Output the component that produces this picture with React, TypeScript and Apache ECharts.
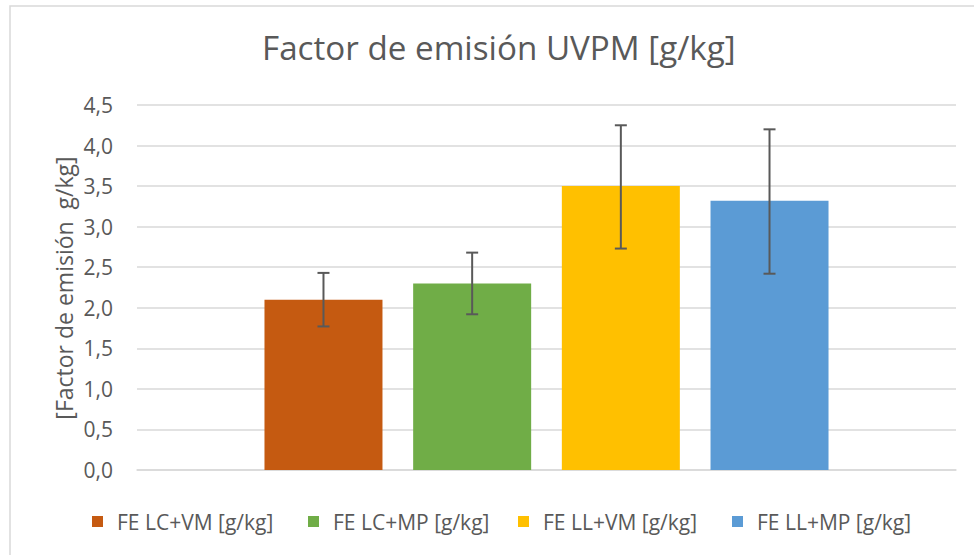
import React, { useEffect, useRef } from "react";
import * as echarts from "echarts";

const seriesNames = ["FE LC+VM [g/kg]", "FE LC+MP [g/kg]", "FE LL+VM [g/kg]", "FE LL+MP [g/kg]"];
const barValues = [2.1, 2.3, 3.5, 3.32];
const errLow = [1.77, 1.92, 2.73, 2.42];
const errHigh = [2.43, 2.68, 4.25, 4.2];
const colors = ["#C55A11", "#70AD47", "#FFC000", "#5B9BD5"];
const yTicks = { min: 0, max: 4.5, interval: 0.5 };
const titleText = "Factor de emisión UVPM [g/kg]";
const yName = "[Factor de emisión  g/kg]";

const FONT = "'Open Sans', 'Noto Sans', sans-serif";
const TEXT = "#595959";
const BAR_W = 118;
const BAR_GAP = 0.26;
const legendLefts = [87, 303, 513, 727];

export default function App() {
  const ref = useRef<HTMLDivElement>(null);
  useEffect(() => {
    if (!ref.current) return;
    const chart = echarts.init(ref.current, undefined, { renderer: "svg" });
    const step = BAR_W * (1 + BAR_GAP);
    const bars = seriesNames.map((n, i) => ({
      type: "bar",
      name: n,
      data: [barValues[i]],
      barWidth: BAR_W,
      barGap: BAR_GAP * 100 + "%",
      itemStyle: { color: colors[i] },
      z: 2,
    }));
    const errs = seriesNames.map((n, i) => ({
      type: "custom",
      name: "err" + i,
      data: [[0, errLow[i], errHigh[i]]],
      encode: { x: 0, y: [1, 2] },
      z: 5,
      renderItem: (params: any, api: any) => {
        const top = api.coord([0, api.value(2)]);
        const bot = api.coord([0, api.value(1)]);
        const x = top[0] + (i - 1.5) * step;
        const st = { stroke: "#595959", lineWidth: 2 };
        const cw = 6;
        return {
          type: "group",
          children: [
            { type: "line", shape: { x1: x, y1: top[1], x2: x, y2: bot[1] }, style: st },
            { type: "line", shape: { x1: x - cw, y1: top[1], x2: x + cw, y2: top[1] }, style: st },
            { type: "line", shape: { x1: x - cw, y1: bot[1], x2: x + cw, y2: bot[1] }, style: st },
          ],
        };
      },
    }));
    const legends = seriesNames.map((n, i) => ({
      data: [n],
      left: legendLefts[i],
      top: 506,
      itemWidth: 11,
      itemHeight: 11,
      icon: "rect",
      selectedMode: false,
      formatter: (name: string) => "{a|" + name + "}",
      textStyle: {
        color: TEXT,
        fontFamily: FONT,
        fontSize: 21,
        rich: { a: { color: TEXT, fontFamily: FONT, fontSize: 21, padding: [0, 0, 0, 9] } },
      },
    }));
    chart.setOption({
      animation: false,
      textStyle: { fontFamily: FONT },
      title: {
        text: titleText,
        left: 262,
        top: 31,
        padding: 0,
        textStyle: { color: TEXT, fontFamily: FONT, fontSize: 33.2, fontWeight: "normal" },
      },
      legend: legends,
      grid: { left: 137, right: 18, top: 105, bottom: 555 - 470, containLabel: false },
      xAxis: {
        type: "category",
        data: [""],
        axisLine: { lineStyle: { color: "#D9D9D9", width: 1.5 } },
        axisTick: { show: false },
        axisLabel: { show: false },
      },
      yAxis: {
        type: "value",
        min: yTicks.min,
        max: yTicks.max,
        interval: yTicks.interval,
        axisLine: { show: false },
        axisTick: { show: false },
        axisLabel: {
          color: TEXT,
          fontFamily: FONT,
          fontSize: 21,
          margin: 24,
          formatter: (v: number) => v.toFixed(1).replace(".", ","),
        },
        splitLine: { lineStyle: { color: "#D9D9D9", width: 1.5 } },
      },
      graphic: [
        {
          type: "rect",
          shape: { x: 10, y: 6, width: 990, height: 570 },
          style: { fill: "none", stroke: "#D9D9D9", lineWidth: 1.5 },
          silent: true,
        },
        {
          type: "text",
          x: 64,
          y: 288,
          rotation: Math.PI / 2,
          style: {
            text: yName,
            fill: TEXT,
            font: "23px 'Open Sans', 'Noto Sans', sans-serif",
            align: "center",
            verticalAlign: "middle",
          },
          silent: true,
        },
      ],
      series: [...bars, ...errs],
    });
    return () => chart.dispose();
  }, []);
  return (
    <div
      ref={ref}
      style={{ position: "fixed", left: 0, top: 0, width: 974, height: 555, background: "#fff" }}
    />
  );
}
